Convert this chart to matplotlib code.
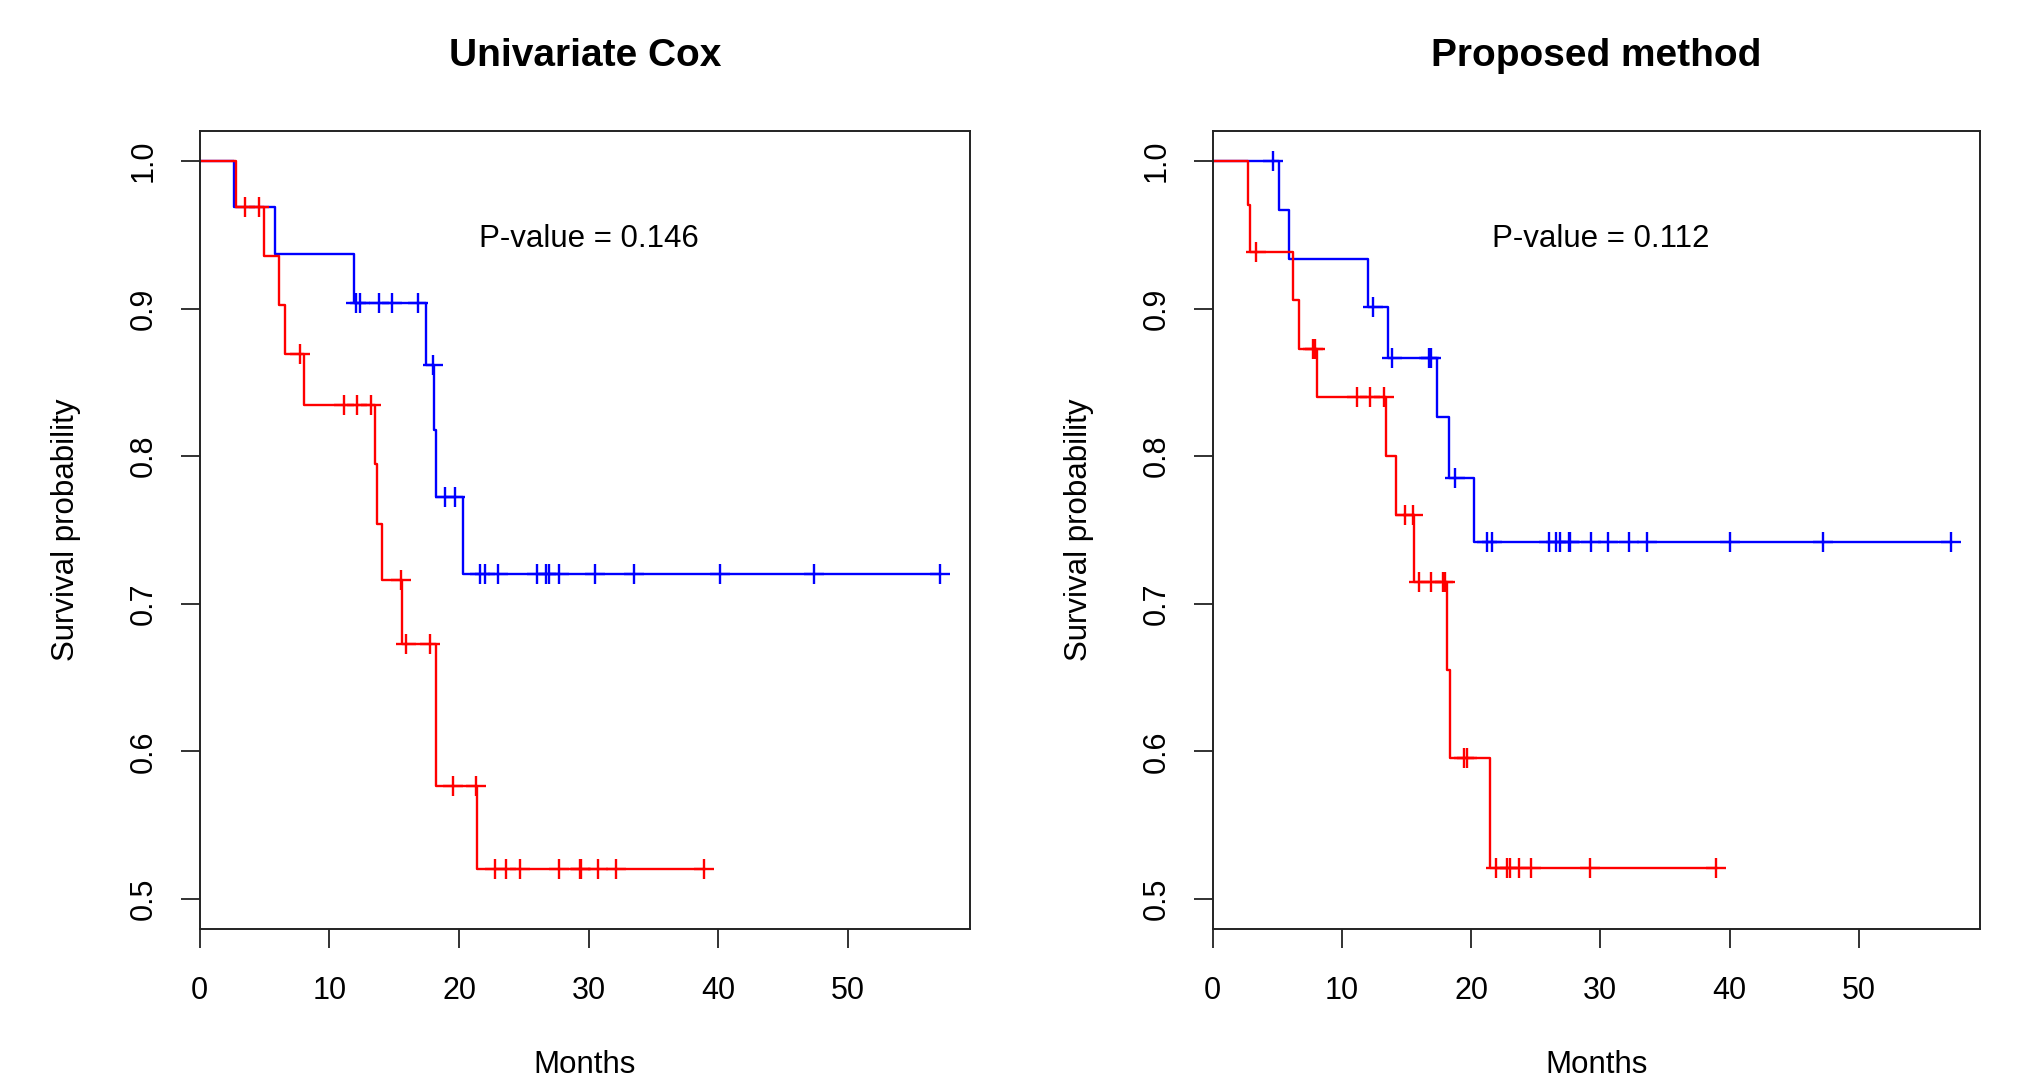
import numpy as np
import matplotlib
matplotlib.use("Agg")
import matplotlib.pyplot as plt

plt.rcParams['font.family'] = ['Liberation Sans', 'DejaVu Sans']

# ---- Univariate Cox (left) ----
cox_blue_times = [0, 2.65, 5.85, 11.9, 17.45, 18.1, 18.25, 20.3]
cox_blue_surv = [1.0, 0.969, 0.937, 0.904, 0.862, 0.818, 0.7725, 0.72]
cox_blue_cens = [12.05, 12.4, 13.85, 14.8, 16.86, 17.97, 18.9, 19.7, 21.6, 22.0,
                 22.97, 26.0, 26.7, 26.9, 27.7, 30.5, 33.5, 40.1, 47.4, 57.1]

cox_red_times = [0, 2.78, 5.0, 6.1, 6.6, 8.06, 13.5, 13.65, 14.1, 15.57, 18.2, 21.37]
cox_red_surv = [1.0, 0.969, 0.9356, 0.9024, 0.869, 0.8346, 0.795, 0.7544, 0.716,
                0.673, 0.5763, 0.52]
cox_red_cens = [3.47, 4.55, 7.72, 11.1, 12.1, 13.2, 15.5, 15.9, 17.8, 19.5, 21.3,
                22.8, 23.6, 24.7, 27.7, 29.3, 29.4, 30.7, 32.1, 38.9]

# ---- Proposed method (right) ----
prop_blue_times = [0, 5.12, 5.89, 12.0, 13.6, 17.36, 18.29, 20.2]
prop_blue_surv = [1.0, 0.967, 0.934, 0.901, 0.8665, 0.8265, 0.785, 0.742]
prop_blue_cens = [4.65, 12.45, 13.9, 16.77, 16.9, 18.77, 21.26, 21.6, 26.0, 26.6,
                  26.9, 27.56, 27.68, 29.3, 30.6, 32.2, 33.6, 40.0, 47.25, 57.15]

prop_red_times = [0, 2.73, 2.93, 6.2, 6.66, 8.08, 13.4, 14.2, 15.57, 18.14, 18.34, 21.48]
prop_red_surv = [1.0, 0.970, 0.9383, 0.906, 0.873, 0.840, 0.8005, 0.760, 0.7145,
                 0.6554, 0.5955, 0.521]
prop_red_cens = [3.37, 7.74, 7.9, 11.2, 12.2, 13.27, 14.86, 15.49, 15.94, 16.9, 17.86,
                 17.97, 19.43, 19.68, 21.9, 22.74, 23.0, 23.68, 24.6, 29.16, 38.93]

titles = ["Univariate Cox", "Proposed method"]
pvalues = ["P-value = 0.146", "P-value = 0.112"]
x_ticks = [0, 10, 20, 30, 40, 50]
y_ticks = [0.5, 0.6, 0.7, 0.8, 0.9, 1.0]


def km_curve(ax, times, surv, cens, color):
    times = np.asarray(times)
    surv = np.asarray(surv)
    end = max(cens[-1], times[-1])
    x = np.append(times, end)
    y = np.append(surv, surv[-1])
    ax.step(x, y, where='post', color=color, lw=1.7)
    idx = np.searchsorted(times, cens, side='right') - 1
    ax.plot(cens, surv[idx], linestyle='none', marker='+', color=color,
            markersize=15, markeredgewidth=1.7)


fig = plt.figure(figsize=(20.3, 10.79), dpi=100)
ax1 = fig.add_axes([0.0983, 0.139, 0.3796, 0.7396])
ax2 = fig.add_axes([0.5973, 0.139, 0.3783, 0.7396])

km_curve(ax1, cox_blue_times, cox_blue_surv, cox_blue_cens, '#0000FF')
km_curve(ax1, cox_red_times, cox_red_surv, cox_red_cens, '#FF0000')
km_curve(ax2, prop_blue_times, prop_blue_surv, prop_blue_cens, '#0000FF')
km_curve(ax2, prop_red_times, prop_red_surv, prop_red_cens, '#FF0000')

for ax, title, pv in zip([ax1, ax2], titles, pvalues):
    ax.set_xlim(0, 59.4)
    ax.set_ylim(0.4795, 1.0205)
    ax.set_xticks(x_ticks)
    ax.set_yticks(y_ticks)
    ax.set_yticklabels([f"{v:.1f}" for v in y_ticks], rotation=90, va='center')
    ax.tick_params(direction='out', length=13.5, width=1.3, labelsize=22,
                   colors='#222222', labelcolor='black')
    ax.tick_params(axis='y', pad=16)
    ax.tick_params(axis='x', pad=20)
    for s in ax.spines.values():
        s.set_linewidth(1.4)
        s.set_color('#222222')
    ax.set_title(title, fontsize=28, fontweight='bold', pad=47)
    ax.set_xlabel("Months", fontsize=22.5, labelpad=32)
    ax.set_ylabel("Survival probability", fontsize=22.5, labelpad=34)
    ax.text(30, 0.947, pv, fontsize=22.5, ha='center', va='center')

fig.savefig("out.png", dpi=100)
